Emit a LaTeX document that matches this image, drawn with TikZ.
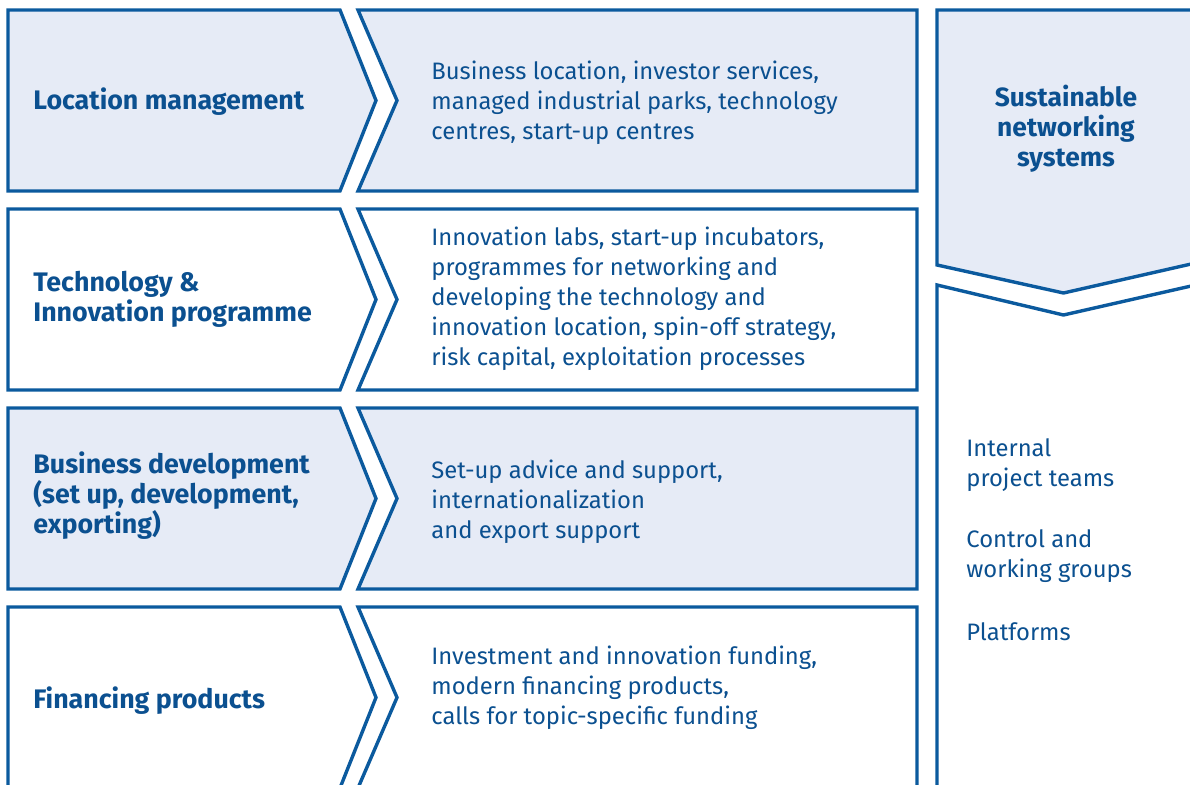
\documentclass[tikz,border=0pt]{standalone}
\usepackage{fontspec}
\setmainfont{Fira Sans}
\definecolor{navy}{HTML}{0B5A9E}
\definecolor{ink}{HTML}{0B5090}
\definecolor{pale}{HTML}{E6EBF6}
\tikzset{
  panel/.style={draw=navy, line width=1.7pt, line join=miter},
  shaded/.style={panel, fill=pale},
  plain/.style={panel, fill=white},
  title/.style={anchor=west, align=left, text=ink, font=\fontsize{13.4}{15}\selectfont\bfseries, inner sep=0pt},
  body/.style={anchor=west, align=left, text=ink, font=\fontsize{11.9}{15}\selectfont, inner sep=0pt},
  headc/.style={align=center, text=ink, font=\fontsize{13.2}{15}\selectfont\bfseries, inner sep=0pt},
}
\begin{document}
\begin{tikzpicture}[x=0.5pt, y=-0.5pt]
\useasboundingbox (0,0) rectangle (1190,785);
\clip (0,0) rectangle (1190,785);
% four rows: chevron on the left, notched panel on the right
\foreach \t/\sty in {10/shaded, 209/plain, 408/shaded, 607/plain}{
  \pgfmathsetmacro{\b}{\t+181}
  \pgfmathsetmacro{\m}{\t+90.5}
  \draw[\sty] (8,\t) -- (340,\t) -- (376,\m) -- (340,\b) -- (8,\b) -- cycle;
  \draw[\sty] (358,\t) -- (917,\t) -- (917,\b) -- (358,\b) -- (397,\m) -- cycle;
}
% right column: downward arrow and the panel below it
\draw[shaded] (937,10) -- (1200,10) -- (1200,262) -- (1063.5,293) -- (937,265) -- cycle;
\draw[plain] (937,800) -- (937,285) -- (1063.5,315) -- (1200,284) -- (1200,800);

\node[title] (t1) at (33,102) {Location management};
\node[title] (t2) at (33,299) {Technology \&\\Innovation programme};
\node[title] (t3) at (33,496) {Business development\\(set up, development,\\exporting)};
\node[title] (t4) at (33,701) {Financing products};

\node[body] (b1) at (431,103) {Business location, investor services,\\managed industrial parks, technology\\centres, start-up centres};
\node[body] (b2) at (431,299) {Innovation labs, start-up incubators,\\programmes for networking and\\developing the technology and\\innovation location, spin-off strategy,\\risk capital, exploitation processes};
\node[body] (b3) at (431,502) {Set-up advice and support,\\internationalization\\and export support};
\node[body] (b4) at (431,688) {Investment and innovation funding,\\modern financing products,\\calls for topic-specific funding};

\node[headc] (s) at (1066,129) {Sustainable\\networking\\systems};
\node[body] (r1) at (966,465) {Internal\\project teams};
\node[body] (r2) at (966,556) {Control and\\working groups};
\node[body] (r3) at (966,632) {Platforms};
\end{tikzpicture}
\end{document}
